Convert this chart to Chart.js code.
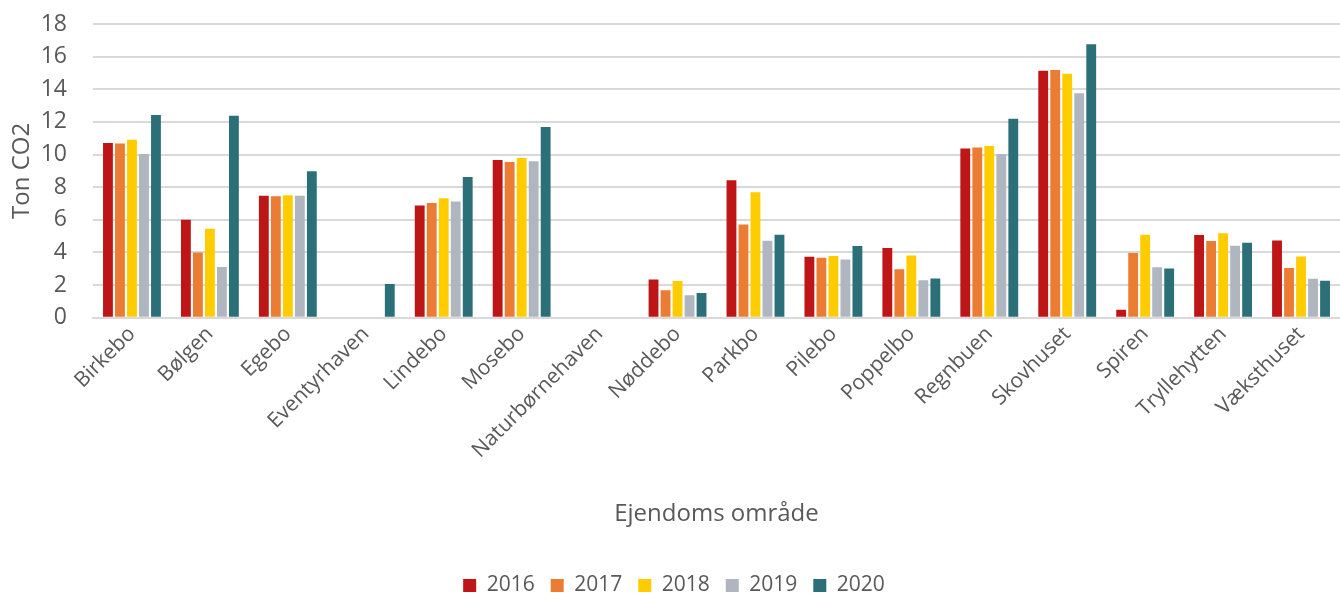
<!DOCTYPE html>
<html>
<head>
<meta charset="utf-8">
<script src="https://cdn.jsdelivr.net/npm/chart.js@4/dist/chart.umd.min.js"></script>
<style>
html,body{margin:0;padding:0;background:#fff;}
#wrap{width:1340px;height:594px;position:relative;}
</style>
</head>
<body>
<div id="wrap"><canvas id="c" width="1340" height="594"></canvas></div>
<script>
const categories = ["Birkebo","Bølgen","Egebo","Eventyrhaven","Lindebo","Mosebo","Naturbørnehaven","Nøddebo","Parkbo","Pilebo","Poppelbo","Regnbuen","Skovhuset","Spiren","Tryllehytten","Væksthuset"];
const years = ["2016","2017","2018","2019","2020"];
const v2016 = [10.7, 6.0, 7.48, 0, 6.87, 9.67, 0, 2.35, 8.43, 3.73, 4.27, 10.37, 15.13, 0.49, 5.07, 4.74];
const v2017 = [10.68, 4.0, 7.44, 0, 7.03, 9.55, 0, 1.69, 5.71, 3.67, 2.97, 10.43, 15.18, 3.96, 4.70, 3.05];
const v2018 = [10.91, 5.46, 7.5, 0, 7.32, 9.79, 0, 2.25, 7.69, 3.79, 3.81, 10.52, 14.95, 5.09, 5.18, 3.75];
const v2019 = [10.04, 3.11, 7.48, 0, 7.13, 9.59, 0, 1.38, 4.72, 3.57, 2.29, 10.04, 13.75, 3.09, 4.41, 2.39];
const v2020 = [12.43, 12.37, 8.97, 2.06, 8.62, 11.69, 0, 1.51, 5.09, 4.39, 2.41, 12.19, 16.76, 3.01, 4.60, 2.27];
const colors = ["#BE1517", "#EA7D33", "#FFCC00", "#AFB6C0", "#2B7079"];
const yTitle = "Ton CO2";
const xTitle = "Ejendoms område";

const series = [v2016, v2017, v2018, v2019, v2020];
const FONT = "'Open Sans', 'DejaVu Sans', sans-serif";
Chart.defaults.font.family = FONT;
Chart.defaults.color = "#595959";

new Chart(document.getElementById('c'), {
  type: 'bar',
  data: {
    labels: categories,
    datasets: years.map((y, i) => ({
      label: y,
      data: series[i].map(v => v === 0 ? null : v),
      backgroundColor: colors[i],
      borderWidth: 0,
      categoryPercentage: 0.77,
      barPercentage: 0.82
    }))
  },
  options: {
    responsive: false,
    animation: false,
    layout: { padding: { left: 8, right: 0, top: 24, bottom: -12 } },
    plugins: {
      legend: {
        position: 'bottom',
        labels: { font: { size: 21 }, boxWidth: 13, boxHeight: 13, padding: 16, color: '#595959' }
      },
      tooltip: { enabled: false }
    },
    scales: {
      x: {
        afterFit: (s) => { s.paddingLeft = 0; s.paddingRight = 0; },
        grid: { display: false, drawTicks: false },
        border: { display: true, color: '#d9d9d9', width: 2 },
        ticks: { font: { size: 21 }, maxRotation: 45, minRotation: 45, padding: 4, color: '#595959', autoSkip: false },
        title: { display: true, text: xTitle, font: { size: 24 }, color: '#595959', padding: { top: 33, bottom: 30 } }
      },
      y: {
        afterFit: (s) => { s.paddingTop = 0; s.paddingBottom = 0; s.width = 85; },
        min: 0, max: 18,
        ticks: { stepSize: 2, font: { size: 23 }, padding: 26, color: '#595959' },
        grid: { color: '#d9d9d9', lineWidth: 2, drawTicks: false },
        border: { display: false },
        title: { display: true, text: yTitle, font: { size: 24 }, color: '#595959', padding: { top: 0, bottom: 4 } }
      }
    }
  }
});
</script>
</body>
</html>
